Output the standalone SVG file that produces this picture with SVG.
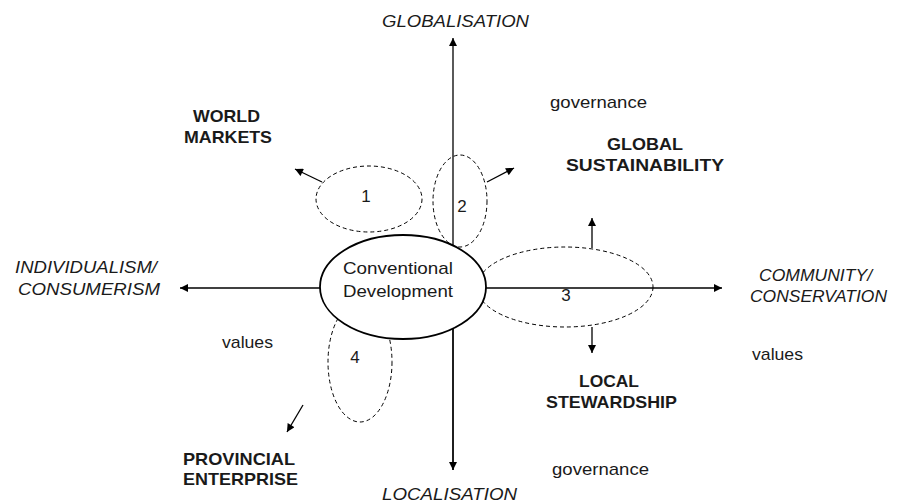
<svg xmlns="http://www.w3.org/2000/svg" width="902" height="504" viewBox="0 0 902 504">
<defs>
<marker id="ah" viewBox="0 0 10 10" refX="10" refY="5" markerWidth="10" markerHeight="8" markerUnits="userSpaceOnUse" orient="auto">
<path d="M0,0 L10,5 L0,10 z" fill="#000"/>
</marker>
<style>
text{font-family:"Liberation Sans",Arial,sans-serif;fill:#1a1a1a;font-size:17px}
.it{font-style:italic}
.b{font-weight:bold}
.dash{stroke:#000;stroke-width:1;stroke-dasharray:4,3;fill:none}
.arr{stroke:#000;stroke-width:1.3;fill:none;marker-end:url(#ah)}
</style>
</defs>
<rect width="902" height="504" fill="#fff"/>
<g id="connectors">
<line class="arr" x1="453" y1="470" x2="453" y2="38"/>
<line class="arr" x1="453" y1="288" x2="453" y2="470"/>
<line class="arr" x1="453" y1="288" x2="180" y2="288"/>
<line class="arr" x1="453" y1="288" x2="722" y2="288"/>
<line class="arr" x1="322" y1="182" x2="295" y2="169"/>
<line class="arr" x1="487" y1="182" x2="514" y2="168"/>
<line class="arr" x1="592" y1="248" x2="592" y2="218"/>
<line class="arr" x1="592" y1="327" x2="592" y2="353"/>
<line class="arr" x1="303" y1="405" x2="287" y2="432"/>
</g>
<g id="zone1">
<ellipse class="dash" cx="369" cy="199" rx="53" ry="33"/>
<text x="366" y="202" text-anchor="middle">1</text>
</g>
<g id="zone2">
<ellipse class="dash" cx="460" cy="201" rx="27" ry="46"/>
<text x="462" y="212" text-anchor="middle">2</text>
</g>
<g id="zone3">
<ellipse class="dash" cx="565" cy="287" rx="88" ry="40"/>
<text x="566" y="301" text-anchor="middle">3</text>
</g>
<g id="zone4">
<ellipse class="dash" cx="360" cy="362" rx="32" ry="60"/>
<text x="355" y="363" text-anchor="middle">4</text>
</g>
<g id="conventional">
<ellipse cx="403" cy="287" rx="83" ry="52" fill="#fff" stroke="#000" stroke-width="1.8"/>
<text x="343" y="274" textLength="110" lengthAdjust="spacingAndGlyphs">Conventional</text>
<text x="343" y="297" textLength="110" lengthAdjust="spacingAndGlyphs">Development</text>
</g>
<g id="labels">
<text class="it" x="382" y="27" textLength="147" lengthAdjust="spacingAndGlyphs">GLOBALISATION</text>
<text class="it" x="382" y="500" textLength="135" lengthAdjust="spacingAndGlyphs">LOCALISATION</text>
<text x="550" y="108" textLength="97" lengthAdjust="spacingAndGlyphs">governance</text>
<text x="552" y="475" textLength="97" lengthAdjust="spacingAndGlyphs">governance</text>
<text class="b" x="193" y="122" textLength="67" lengthAdjust="spacingAndGlyphs">WORLD</text>
<text class="b" x="184" y="143" textLength="88" lengthAdjust="spacingAndGlyphs">MARKETS</text>
<text class="b" x="607" y="150" textLength="76" lengthAdjust="spacingAndGlyphs">GLOBAL</text>
<text class="b" x="566" y="171" textLength="158" lengthAdjust="spacingAndGlyphs">SUSTAINABILITY</text>
<text class="it" x="15" y="273" textLength="142" lengthAdjust="spacingAndGlyphs">INDIVIDUALISM/</text>
<text class="it" x="18" y="295" textLength="142" lengthAdjust="spacingAndGlyphs">CONSUMERISM</text>
<text class="it" x="759" y="281" textLength="113" lengthAdjust="spacingAndGlyphs">COMMUNITY/</text>
<text class="it" x="750" y="302" textLength="137" lengthAdjust="spacingAndGlyphs">CONSERVATION</text>
<text x="222" y="348" textLength="51" lengthAdjust="spacingAndGlyphs">values</text>
<text x="752" y="360" textLength="51" lengthAdjust="spacingAndGlyphs">values</text>
<text class="b" x="579" y="387" textLength="60" lengthAdjust="spacingAndGlyphs">LOCAL</text>
<text class="b" x="546" y="408" textLength="131" lengthAdjust="spacingAndGlyphs">STEWARDSHIP</text>
<text class="b" x="183" y="465" textLength="112" lengthAdjust="spacingAndGlyphs">PROVINCIAL</text>
<text class="b" x="183" y="485" textLength="115" lengthAdjust="spacingAndGlyphs">ENTERPRISE</text>
</g>
</svg>
